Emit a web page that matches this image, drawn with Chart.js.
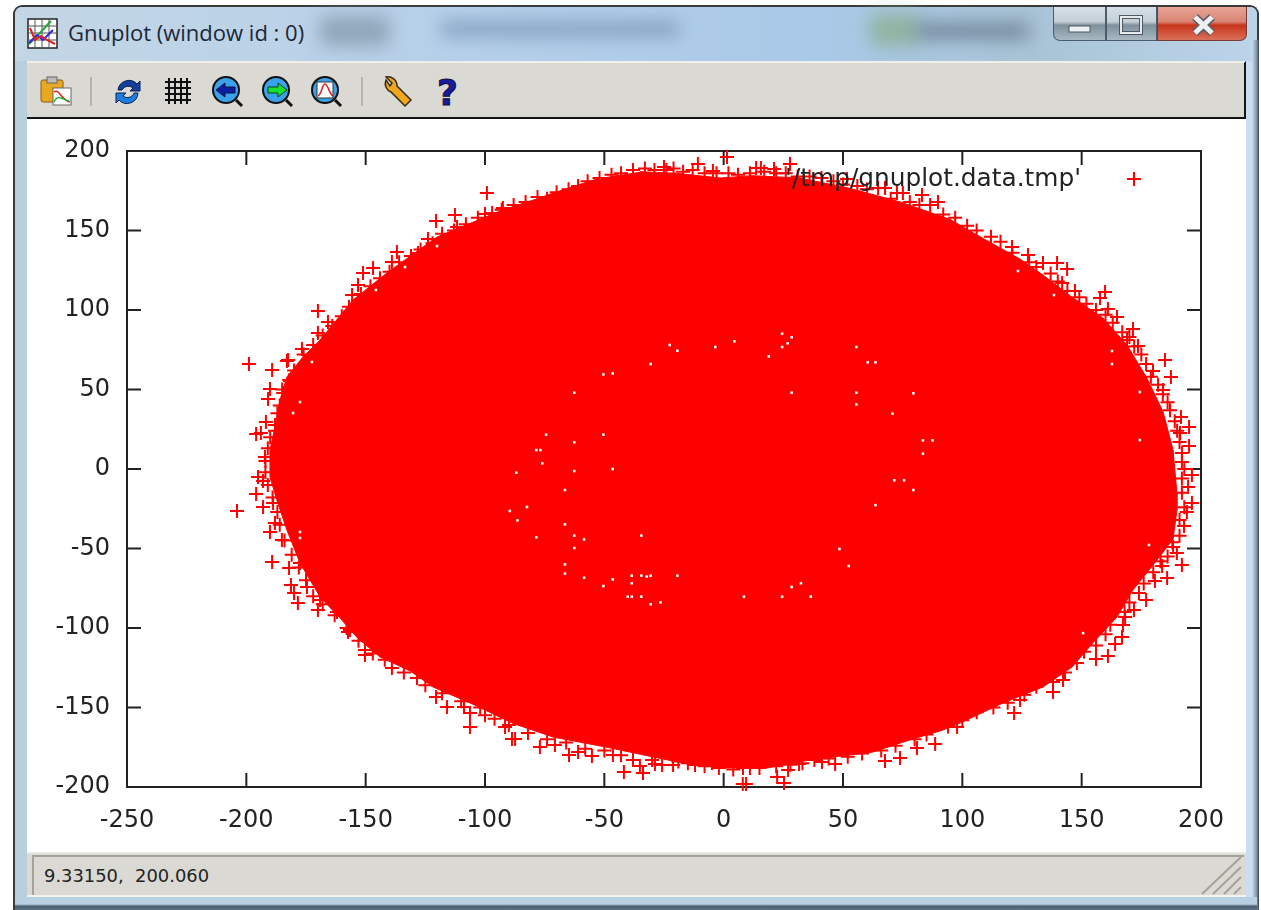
<!DOCTYPE html>
<html>
<head>
<meta charset="utf-8">
<title>Gnuplot (window id : 0)</title>
<script src="https://cdn.jsdelivr.net/npm/chart.js@4/dist/chart.umd.js"></script>
<style>
  html, body { margin: 0; padding: 0; background: #fff; }
  #page { position: relative; width: 1261px; height: 910px; overflow: hidden; background: #fff; filter: blur(0.45px); }
  #page div, #page svg, #page canvas { position: absolute; }
  #frame { left: 13px; top: 5px; width: 1246px; height: 905px; box-sizing: border-box; border: 2px solid #3a3a3a; border-bottom: 0; border-radius: 9px 9px 0 0; background: linear-gradient(90deg, #b9cfdc 0, #b4d0ea 50%, #c9def2 100%); }
  #glass { left: 15px; top: 7px; width: 1242px; height: 54px; border-radius: 7px 7px 0 0; background: linear-gradient(90deg, #c3d6e4 0, #b6d0ea 35%, #a9c9e8 65%, #a9c4d6 82%, #bcd4ea 100%); }
  .smear { filter: blur(9px); border-radius: 6px; }
  #title { left: 68px; top: 17px; font: 22px 'Open Sans', sans-serif; color: #1b2836; white-space: nowrap; }
  #toolbar { left: 27px; top: 61px; width: 1219px; height: 58px; box-sizing: border-box; background: #dbd9d4; border-top: 2px solid #f0efea; border-bottom: 2px solid #141414; border-right: 2px solid #141414; }
  #client { left: 27px; top: 119px; width: 1219px; height: 733px; background: #fff; }
  #status { left: 27px; top: 852px; width: 1219px; height: 45px; box-sizing: border-box; background: #dbd9d4; border-top: 2px solid #e9e8e3; border-bottom: 2px solid #f3f2ee; }
  #statusin { left: 32px; top: 855px; width: 1212px; height: 2px; background: #a5a297; }
  #statusedge { left: 32px; top: 855px; width: 2px; height: 40px; background: #a5a297; }
  #coords { left: 44px; top: 865px; font: 17.9px 'DejaVu Sans', sans-serif; color: #222; white-space: pre; }
  #bottom { left: 15px; top: 897px; width: 1242px; height: 13px; background: linear-gradient(180deg, #b9d0e2 0, #b9d0e2 55%, #4c5f70 70%, #5d7286 100%); }
  #rightedge { left: 1252px; top: 40px; width: 7px; height: 870px; background: linear-gradient(90deg, #c7dcf0, #7f93a6 70%, #3a3a3a); }
  .btn { top: 7px; height: 34px; box-sizing: border-box; border: 1px solid #4b5d6b; border-top: 0; }
  #btnmin { left: 1053px; width: 53px; border-radius: 0 0 0 7px; background: linear-gradient(180deg, #d7e0e8 0, #c3ced6 45%, #7f909c 55%, #a9b8c3 100%); }
  #btnmax { left: 1106px; width: 51px; background: linear-gradient(180deg, #d7e0e8 0, #c3ced6 45%, #7f909c 55%, #a9b8c3 100%); }
  #btnclose { left: 1157px; width: 90px; border-radius: 0 0 7px 0; border-color: #7a3a30; background: linear-gradient(180deg, #e8a596 0, #d98373 45%, #c7341a 55%, #d9705a 100%); }
  #chart { left: 27px; top: 119px; }
</style>
</head>
<body>
<div id="page">
  <div id="frame"></div>
  <div id="glass"></div>
  <div class="smear" style="left:320px;top:16px;width:70px;height:30px;background:#8fa6b8"></div>
  <div class="smear" style="left:440px;top:22px;width:240px;height:14px;background:#7f9cbc"></div>
  <div class="smear" style="left:870px;top:14px;width:50px;height:32px;background:#8fb4a0"></div>
  <div class="smear" style="left:915px;top:24px;width:115px;height:14px;background:#6a7e90"></div>
  <svg style="left:27px;top:18px" width="31" height="31" viewBox="0 0 31 31">
    <rect x="1" y="1" width="29" height="29" fill="#fff" stroke="#222" stroke-width="1.5"/>
    <path d="M8 1v29M15 1v29M22 1v29M1 8h29M1 15h29M1 22h29" stroke="#555" stroke-width="1"/>
    <path d="M2 26L12 16L24 3" stroke="#1fa83c" stroke-width="2" fill="none"/>
    <path d="M2 25L10 17L16 22L26 12" stroke="#2a2ae0" stroke-width="2" fill="none"/>
    <path d="M3 10L8 22L14 18L20 22L28 26" stroke="#e02020" stroke-width="2" fill="none"/>
  </svg>
  <div id="title">Gnuplot (window id : 0)</div>
  <div id="toolbar"></div>
  <svg style="left:27px;top:63px" width="460" height="54" viewBox="27 63 460 54">
    <rect x="41" y="80" width="22" height="22" rx="2" fill="#e8a820" stroke="#8a5a10"/>
    <rect x="47" y="77" width="10" height="6" fill="#bbb" stroke="#666"/>
    <rect x="53" y="88" width="18" height="17" fill="#fff" stroke="#666"/>
    <path d="M54 92c5-4 7 8 16 10" stroke="#e02020" stroke-width="1.5" fill="none"/>
    <path d="M54 102c4-9 9-2 15-1" stroke="#20b040" stroke-width="1.5" fill="none"/>
    <path d="M91 77v29M362 77v29" stroke="#b5b3ad" stroke-width="2"/>
    <path d="M118 90a11 11 0 0 1 19-6l3-3v10h-10l3-3a7 7 0 0 0-11 2z" fill="#14409c" stroke="#0a1e50"/>
    <path d="M138 93a11 11 0 0 1-19 7l-3 3v-10h10l-3 3a7 7 0 0 0 11-3z" fill="#1c7fe0" stroke="#0a1e50"/>
    <path d="M169 78v26M175 78v26M181 78v26M187 78v26M165 82h26M165 88h26M165 94h26M165 100h26" stroke="#111" stroke-width="2"/>
    <g stroke="#111" stroke-width="2">
      <circle cx="226" cy="90" r="13" fill="#3aa2ea"/><path d="M236 100l6 6" stroke-width="3"/>
      <circle cx="276" cy="90" r="13" fill="#3aa2ea"/><path d="M286 100l6 6" stroke-width="3"/>
      <circle cx="325" cy="90" r="13" fill="#3aa2ea"/><path d="M335 100l6 6" stroke-width="3"/>
    </g>
    <path d="M216 90l9-7v4h10v6h-10v4z" fill="#0a1ea0" stroke="#0a1040"/>
    <path d="M287 90l-9-7v4h-10v6h10v4z" fill="#18e030" stroke="#0a4018"/>
    <rect x="317" y="82" width="16" height="16" fill="#fff" stroke="#333"/>
    <path d="M318 96c4-2 4-12 7-12s4 10 8 12" stroke="#e02020" stroke-width="1.5" fill="none"/>
    <path d="M386 80a9 9 0 0 0 5 12l14 14 6-6-14-14a9 9 0 0 0-11-9l6 6-2 3z" fill="#f0a820" stroke="#3a2a10" stroke-width="1.5"/>
    <text x="437" y="105" font-family="'DejaVu Sans'" font-weight="bold" font-size="36" fill="#1a1aa0" stroke="#101040" stroke-width="1">?</text>
  </svg>
  <div id="client"></div>
  <canvas id="chart" width="1219" height="733"></canvas>
  <div id="status"></div>
  <div id="statusin"></div>
  <div id="statusedge"></div>
  <div id="coords">9.33150,  200.060</div>
  <svg style="left:1200px;top:855px" width="44" height="40" viewBox="0 0 44 40">
    <path d="M2 39L41 2M13 39L41 12M24 39L41 22M34 39L41 32" stroke="#a5a297" stroke-width="2"/>
  </svg>
  <div id="rightedge"></div>
  <div id="bottom"></div>
  <div class="btn" id="btnmin"></div>
  <div class="btn" id="btnmax"></div>
  <div class="btn" id="btnclose"></div>
  <svg style="left:1053px;top:7px" width="194" height="34" viewBox="1053 7 194 34">
    <rect x="1069" y="26" width="21" height="6" fill="#eef1f3" stroke="#4d5a64"/>
    <rect x="1121" y="17" width="20" height="16" fill="none" stroke="#4d5a64" stroke-width="4"/>
    <rect x="1121" y="17" width="20" height="16" fill="none" stroke="#e6eaed" stroke-width="2"/>
    <path d="M1195 17l17 16M1212 17l-17 16" stroke="#59606a" stroke-width="8"/>
    <path d="M1195 17l17 16M1212 17l-17 16" stroke="#eef1f3" stroke-width="5"/>
  </svg>
</div>
<script>
const xTicks = [-250, -200, -150, -100, -50, 0, 50, 100, 150, 200]
const yTicks = [-200, -150, -100, -50, 0, 50, 100, 150, 200]
const seriesName = "'/tmp/gnuplot.data.tmp'"

const cloudEdge = [
  [-35.1, 187], [-20, 186], [-1.5, 183], [12, 184.5], [32, 183], [52.9, 176.5], [73.9, 168], [94.8, 157], [108.7, 145],
  [124.2, 132], [133.8, 122], [145.1, 109], [158.9, 95], [169, 78], [177.4, 57], [184.1, 36], [188.3, 12], [189.9, -15],
  [189.9, -26], [188.3, -44], [181.6, -57.2], [171.5, -76.1], [164.8, -93.1], [154.7, -109.4], [146, -124.5],
  [133.8, -137.1], [117, -147.2], [99, -159.8], [91.9, -164.2], [78, -170.4], [62.6, -178], [36.2, -183], [18.2, -188],
  [1.4, -188], [-12.8, -186.2], [-26.7, -182], [-48.9, -175], [-71.5, -168.6], [-88.3, -160], [-105, -148],
  [-121.8, -137.1], [-131.4, -127], [-144, -118.2], [-153.6, -106], [-160, -95], [-169.1, -80.5], [-177.5, -59.1],
  [-183, -38.4], [-187.2, -19.5], [-190.1, -5], [-190.1, 11.9], [-188, 26.4], [-185.9, 43.4], [-183, 57.9],
  [-176.3, 70.4], [-169.1, 81.1], [-155.3, 106.3], [-141.1, 123.3], [-120.1, 145.9], [-92.5, 163], [-78, 170],
  [-68.6, 175], [-51.8, 183]
]

// separate + marks around the rim
const rimPoints = [
  [-99.2, 173.6], [-112.6, 159.7], [-120.5, 156], [-123.9, 144.6], [-92.5, 164.1], [-100, 160.4], [-111.7, 152.2],
  [-136.9, 136.5], [-139, 130.2], [-146.9, 126.4], [-151.1, 123.3], [-153.2, 115.7], [-155.7, 109.4], [-170, 99.4],
  [-165.8, 92.4], [-170, 85.5], [-176.7, 75.5], [-182.5, 68.5], [-128.1, 135.8],
  [1.4, 196.2], [-10.8, 191.8], [-4.5, 187.4], [-25, 190], [13.6, 189.3], [15.6, 189.3], [21.1, 188.7], [27.8, 191.8],
  [51.7, 182.4], [64.7, 176.7], [67.6, 176.7], [72.6, 173.6], [75.1, 173.6], [83.1, 172.3], [89.8, 167.9], [86.5, 166],
  [120.8, 139.6], [127.5, 134.6], [133.8, 129.6], [139.7, 129.6], [143.9, 125.8], [141.8, 117], [147.2, 111.9],
  [159.8, 111.3], [157.7, 107.5], [161, 100.6], [164.8, 95.6], [171.5, 88], [169, 81.1], [173.6, 77.3], [184.9, 68.5],
  [179.9, 61.6], [187.4, 57.8], [184.1, 49.7], [191.6, 32.7], [195, 26.4], [191.2, 22.6], [195, 14.4], [192, 4.4],
  [196.2, -3.8], [194.6, -11.3],
  [196.2, -21.4], [194.1, -27.1], [192.9, -35.9], [188.3, -49.1], [189.9, -52.9], [192, -60.4], [183.7, -61],
  [185.8, -68.6], [180.7, -70.5], [177, -82.4], [171.9, -88.7], [168.2, -93.1], [167.3, -98.1], [166.9, -105.7],
  [164, -110.1], [161, -117.6], [156, -119.5], [142.2, -132.7], [138, -140.3], [124.2, -145.3], [121.7, -153.5],
  [9.4, -198.1], [8, -198.1], [22.4, -193.7], [25.3, -197.5], [27, -189.3], [31.6, -185.6], [41.2, -184.3], [46.7, -185.6],
  [67.6, -183.7], [73.9, -181.8], [81, -175.5], [88.6, -173], [-21.2, -186.2], [-25.8, -186.2], [-12, -186.2],
  [-4.9, -184.9], [8.1, -188.1], [97.8, -162.3],
  [-41.8, -190.6], [-33.8, -191.2], [-35.1, -186.8], [-28.8, -185.6], [-46.4, -179.9], [-55.2, -180.5], [-61, -178],
  [-64.8, -179.9], [-70.7, -173.6], [-77, -174.9], [-87.4, -169.8], [-88.7, -169.8], [-91.6, -162.3], [-100, -154.8],
  [-106.3, -162.3], [-106.3, -153.5], [-108.8, -149.7], [-115.9, -149.7], [-120.5, -143.4], [-128.5, -131.5],
  [-139, -125.2], [-150.3, -117], [-150.3, -113.9], [-156.6, -101.3],
  [-198.9, 66], [-189.2, 62.3], [-183, 67.9], [-181.7, 55.3], [-190.1, 50.3], [-190.9, 44], [-184.6, 47.8], [-191.8, 29.5],
  [-195.9, 22], [-193.9, 22.6], [-188, 27.7], [-192.2, 7.5], [-195.1, -5], [-193, -7.6], [-195.9, -15.7], [-203.9, -26.4],
  [-193, -23.9], [-188.8, -21.4], [-188, -34], [-190.1, -39.6], [-185.1, -44.7], [-189.2, -58.5], [-182.1, -62.3],
  [-177.5, -59.1], [-181.3, -73], [-180, -78], [-178.4, -84.3], [-174.6, -74.2], [-170, -88.7], [-162, -90],
  [-157.4, -102.5], [-169.1, -82.4]
]

// the dense + marks that merge into the edge of the cloud, estimated by eye
const fringePoints = [
  [-88, 166], [-83, 168], [-78, 171], [-74, 170], [-70, 174], [-65, 176], [-61, 178], [-57, 181], [-52, 183], [-47, 185],
  [-43, 186], [-38, 188], [-33, 189], [-29, 188], [-24, 188], [-21, 189], [-17, 187], [-13, 188], [-8, 186], [-3, 186],
  [2, 186], [6, 185], [11, 186], [17, 187], [22, 186], [26, 186], [31, 184], [36, 184], [41, 183], [46, 181], [50, 179],
  [56, 178], [60, 176], [70, 170], [78, 168], [82, 166], [92, 160], [97, 158], [102, 153], [106, 150], [112, 146],
  [116, 143], [121, 136], [128, 130], [131, 127], [137, 123], [140, 118], [144, 112], [149, 108], [152, 104], [156, 100],
  [160, 97], [163, 92], [167, 86], [170, 83], [172, 77], [175, 72], [177, 66], [179, 58], [182, 53], [184, 47], [186, 42],
  [187, 37], [189, 30], [190, 24], [191, 17], [192, 10], [193, 0], [192, -6], [192, -15], [193, -24], [191, -32],
  [191, -42], [188, -46], [186, -55], [183, -58], [180, -65], [176, -72], [174, -78], [170, -84], [168, -90], [162, -98],
  [160, -104], [156, -111], [151, -115], [148, -122], [143, -128], [138, -134], [131, -137], [126, -142], [119, -147],
  [113, -150], [106, -153], [100, -158], [94, -162], [85, -167], [80, -170], [72, -174], [66, -177], [58, -179],
  [52, -181], [44, -182], [38, -183], [33, -185], [28, -186], [22, -187], [15, -188], [11, -188], [4, -189], [-2, -188],
  [-8, -187], [-15, -185], [-19, -184], [-30, -183], [-38, -183], [-43, -180], [-50, -177], [-58, -176], [-66, -172],
  [-74, -170], [-82, -166], [-90, -161], [-96, -157], [-102, -150], [-110, -146], [-118, -141], [-125, -136], [-134, -128],
  [-142, -120], [-147, -116], [-153, -108], [-158, -100], [-163, -92], [-168, -85], [-172, -80], [-175, -70], [-178, -62],
  [-181, -54], [-184, -45], [-186, -35], [-187, -27], [-189, -18], [-191, -10], [-192, -2], [-192, 5], [-191, 13],
  [-190, 20], [-188, 24], [-187, 35], [-186, 40], [-185, 50], [-182, 56], [-180, 62], [-176, 72], [-172, 78], [-168, 84],
  [-164, 90], [-160, 96], [-157, 102], [-152, 110], [-148, 115], [-144, 120], [-140, 124], [-136, 130], [-131, 134],
  [-127, 138], [-122, 142], [-118, 148], [-113, 150], [-108, 154], [-103, 158], [-97, 161], [-93, 163]
]

// places where no point landed, showing up white inside the cloud
const emptySpots = [
  [24.5, 85.1], [28.5, 82.8], [26.8, 79], [24.5, 76.7], [18.9, 70.8], [4.5, 80.3], [-3.5, 76.7], [-22.6, 78], [-19.4, 74.4],
  [-30.6, 66], [-50.4, 59.5], [-46.5, 60.1], [-62.6, 48], [28.5, 48], [55.6, 76.7], [60.4, 67.1], [63.6, 67.1], [55.6, 48],
  [55.6, 40.6], [79.5, 47.6], [70.7, 34.8], [83.5, 18], [87.5, 18], [83.5, 9.6], [71.5, -7.1], [75.6, -7.1], [79.5, -13.2],
  [63.6, -22.7], [48.5, -50.3], [52.4, -61], [32.4, -71.9], [28.5, -74.2], [24.5, -80.3], [36.5, -80.3], [8.5, -80.3],
  [-19.4, -67.1], [-30.6, -67.1], [-32.2, -67.7], [-34.5, -67.1], [-38.5, -67.1], [-38.5, -71.9], [-46.5, -69.4],
  [-50.4, -73.6], [-58.5, -68.4], [-66.5, -65.8], [-66.5, -60], [-62.6, -49.7], [-58.5, -44.3], [-62.6, -41.9],
  [-66.5, -34.8], [-34.5, -41.9], [-40.2, -80.3], [-38.5, -80.3], [-34.5, -80.3], [-30.6, -85.1], [-26.5, -83.9],
  [-78.5, -43], [-86.4, -32.3], [-89.6, -26.4], [-82.4, -23.9], [-66.5, -13.2], [-62.6, -1.3], [-46.5, 0], [-86.9, -2.3],
  [-76, 3.5], [-78.5, 11.9], [-76.8, 11.9], [-62.6, 16.8], [-74.4, 21.6], [-50.4, 21.6],
  [-177.5, 42.1], [-180.4, 35.2], [-172.5, 67.3], [-177.5, -39.6], [-177.5, -43.4], [162.7, 66], [162.7, 74.2],
  [174.4, 18.2], [174.4, 48.4], [138.4, 109.4], [123.3, 124.5], [178.2, -47.8], [150.6, -103.2], [-120.1, 140.2],
  [-133.5, 127], [-145.7, 112.6]
]

const toXY = (pairs) => pairs.map(([x, y]) => ({ x, y }))
const axisFont = { family: 'DejaVu Sans', size: 24 }
const inkColor = '#222'
const tickSize = 14

// gnuplot box: frame all round, ticks pointing inward on all four sides
const plotBox = {
  id: 'plotBox',
  beforeDatasetsDraw (chart) {
    const { ctx, chartArea: area, scales } = chart
    ctx.save()
    ctx.strokeStyle = inkColor
    ctx.lineWidth = 2
    ctx.strokeRect(area.left, area.top, area.right - area.left, area.bottom - area.top)
    ctx.beginPath()
    xTicks.forEach((v) => {
      const px = scales.x.getPixelForValue(v)
      ctx.moveTo(px, area.top)
      ctx.lineTo(px, area.top + tickSize)
      ctx.moveTo(px, area.bottom)
      ctx.lineTo(px, area.bottom - tickSize)
    })
    yTicks.forEach((v) => {
      const py = scales.y.getPixelForValue(v)
      ctx.moveTo(area.left, py)
      ctx.lineTo(area.left + tickSize, py)
      ctx.moveTo(area.right, py)
      ctx.lineTo(area.right - tickSize, py)
    })
    ctx.stroke()
    ctx.restore()
  },
  afterDatasetsDraw (chart) {
    const { ctx, chartArea: area } = chart
    const keyX = area.right - 67
    const keyY = area.top + 28
    ctx.save()
    ctx.font = "24.8px 'DejaVu Sans'"
    ctx.fillStyle = inkColor
    ctx.textAlign = 'right'
    ctx.textBaseline = 'middle'
    ctx.fillText(seriesName, area.right - 120, keyY + 1)
    ctx.strokeStyle = '#f00'
    ctx.lineWidth = 2
    ctx.beginPath()
    ctx.moveTo(keyX - 7, keyY)
    ctx.lineTo(keyX + 7, keyY)
    ctx.moveTo(keyX, keyY - 7)
    ctx.lineTo(keyX, keyY + 7)
    ctx.stroke()
    ctx.restore()
  }
}

const plusMark = {
  pointStyle: 'cross',
  pointRadius: 7,
  pointBorderColor: '#f00',
  pointBorderWidth: 2,
  clip: false
}

const chart = new Chart(document.getElementById('chart').getContext('2d'), {
  type: 'scatter',
  data: {
    datasets: [
      {
        label: 'cloud',
        data: toXY(cloudEdge),
        showLine: true,
        fill: 'shape',
        tension: 0,
        borderColor: '#f00',
        backgroundColor: '#f00',
        borderWidth: 1,
        pointRadius: 0,
        order: 4
      },
      { label: seriesName, data: toXY(rimPoints), order: 3, ...plusMark },
      { label: 'fringe', data: toXY(fringePoints), order: 2, ...plusMark },
      {
        label: 'empty',
        data: toXY(emptySpots),
        pointStyle: 'rect',
        pointRadius: 1.8,
        pointBorderWidth: 0,
        pointBackgroundColor: '#fff',
        order: 1
      }
    ]
  },
  options: {
    responsive: false,
    animation: false,
    devicePixelRatio: 1,
    layout: { padding: { top: 32, right: 45 } },
    plugins: { legend: { display: false }, tooltip: { enabled: false } },
    scales: {
      x: {
        type: 'linear',
        min: xTicks[0],
        max: xTicks[xTicks.length - 1],
        afterBuildTicks: (scale) => { scale.ticks = xTicks.map((value) => ({ value })) },
        afterFit: (scale) => { scale.height = 65 },
        grid: { display: false, drawTicks: false },
        border: { display: false },
        ticks: { font: axisFont, color: inkColor, padding: 19, maxRotation: 0, autoSkip: false }
      },
      y: {
        type: 'linear',
        min: yTicks[0],
        max: yTicks[yTicks.length - 1],
        afterBuildTicks: (scale) => { scale.ticks = yTicks.map((value) => ({ value })) },
        afterFit: (scale) => { scale.width = 100 },
        grid: { display: false, drawTicks: false },
        border: { display: false },
        ticks: { font: axisFont, color: inkColor, padding: 17, autoSkip: false }
      }
    }
  },
  plugins: [plotBox]
})
</script>
</body>
</html>
